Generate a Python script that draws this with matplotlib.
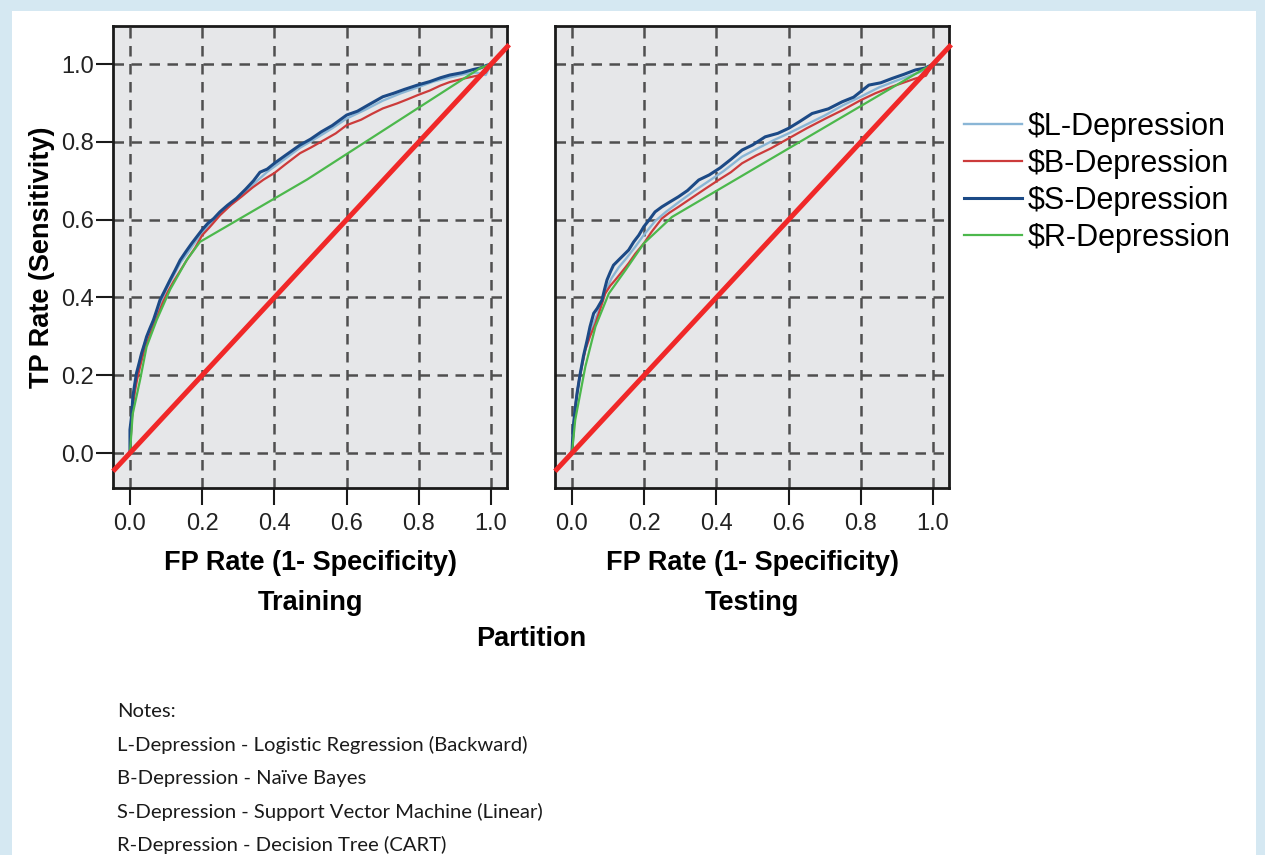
import matplotlib
matplotlib.use("Agg")
import matplotlib.pyplot as plt
from matplotlib.patches import Rectangle

# ---------------- data ----------------
series_names = ["$L-Depression", "$B-Depression", "$S-Depression", "$R-Depression"]
series_colors = ["#8ab6d6", "#cc3b3b", "#1c4a86", "#4cb84c"]
series_widths = [1.7, 1.6, 2.2, 1.6]

train_L_x = [0, 0.005, 0.01, 0.018, 0.028, 0.04, 0.052, 0.065, 0.08, 0.1, 0.12, 0.14, 0.16, 0.18, 0.2, 0.23, 0.26, 0.3, 0.34, 0.38, 0.42, 0.471, 0.52, 0.56, 0.6, 0.65, 0.7, 0.75, 0.796, 0.84, 0.886, 0.93, 0.96, 0.985, 1.0]
train_L_y = [0, 0.09, 0.14, 0.195, 0.24, 0.28, 0.31, 0.338, 0.375, 0.42, 0.455, 0.49, 0.515, 0.542, 0.566, 0.598, 0.625, 0.655, 0.69, 0.723, 0.75, 0.785, 0.812, 0.835, 0.86, 0.882, 0.906, 0.925, 0.94, 0.955, 0.966, 0.975, 0.978, 0.972, 1.0]

train_B_x = [0, 0.004, 0.008, 0.014, 0.02, 0.03, 0.04, 0.05, 0.062, 0.075, 0.09, 0.105, 0.12, 0.14, 0.16, 0.18, 0.2, 0.22, 0.25, 0.28, 0.31, 0.34, 0.37, 0.4, 0.43, 0.471, 0.5, 0.54, 0.57, 0.6, 0.64, 0.67, 0.70, 0.74, 0.77, 0.796, 0.83, 0.86, 0.886, 0.92, 0.95, 0.97, 0.985, 1.0]
train_B_y = [0, 0.07, 0.12, 0.16, 0.19, 0.23, 0.265, 0.29, 0.32, 0.35, 0.385, 0.415, 0.44, 0.47, 0.50, 0.527, 0.56, 0.58, 0.612, 0.638, 0.66, 0.683, 0.703, 0.72, 0.742, 0.771, 0.785, 0.806, 0.822, 0.843, 0.857, 0.872, 0.886, 0.899, 0.91, 0.92, 0.932, 0.945, 0.954, 0.962, 0.968, 0.972, 0.978, 1.0]

train_S_x = [0, 0.0, 0.005, 0.008, 0.012, 0.018, 0.025, 0.032, 0.04, 0.046, 0.055, 0.065, 0.075, 0.083, 0.095, 0.111, 0.125, 0.139, 0.155, 0.171, 0.185, 0.199, 0.215, 0.232, 0.249, 0.27, 0.295, 0.32, 0.342, 0.36, 0.38, 0.40, 0.43, 0.471, 0.50, 0.53, 0.56, 0.60, 0.63, 0.66, 0.70, 0.73, 0.76, 0.796, 0.83, 0.86, 0.886, 0.92, 0.95, 0.97, 0.988, 1.0]
train_S_y = [0, 0.06, 0.10, 0.145, 0.17, 0.205, 0.23, 0.256, 0.28, 0.299, 0.32, 0.342, 0.37, 0.393, 0.415, 0.445, 0.47, 0.496, 0.518, 0.539, 0.556, 0.573, 0.59, 0.603, 0.62, 0.637, 0.655, 0.678, 0.70, 0.722, 0.73, 0.745, 0.765, 0.792, 0.807, 0.826, 0.842, 0.869, 0.879, 0.895, 0.916, 0.925, 0.935, 0.946, 0.955, 0.965, 0.972, 0.978, 0.986, 0.99, 0.997, 1.0]

train_R_x = [0, 0.0075, 0.028, 0.046, 0.074, 0.111, 0.157, 0.194, 0.49, 0.97, 1.0]
train_R_y = [0, 0.10, 0.188, 0.273, 0.342, 0.42, 0.496, 0.543, 0.703, 0.99, 1.0]

test_L_x = [0, 0.005, 0.012, 0.022, 0.035, 0.05, 0.065, 0.08, 0.095, 0.11, 0.13, 0.15, 0.175, 0.2, 0.23, 0.26, 0.3, 0.34, 0.38, 0.42, 0.471, 0.52, 0.56, 0.6, 0.65, 0.7, 0.75, 0.799, 0.85, 0.9, 0.95, 0.98, 1.0]
test_L_y = [0, 0.08, 0.14, 0.2, 0.26, 0.31, 0.345, 0.38, 0.42, 0.45, 0.478, 0.5, 0.53, 0.562, 0.596, 0.62, 0.648, 0.675, 0.7, 0.725, 0.762, 0.786, 0.805, 0.822, 0.845, 0.868, 0.894, 0.916, 0.94, 0.958, 0.975, 0.985, 1.0]

test_B_x = [0, 0.004, 0.009, 0.02, 0.037, 0.05, 0.065, 0.08, 0.092, 0.106, 0.12, 0.14, 0.157, 0.175, 0.199, 0.22, 0.249, 0.27, 0.295, 0.33, 0.37, 0.406, 0.44, 0.471, 0.51, 0.55, 0.6, 0.65, 0.702, 0.75, 0.799, 0.84, 0.886, 0.92, 0.951, 0.98, 1.0]
test_B_y = [0, 0.06, 0.12, 0.19, 0.265, 0.30, 0.333, 0.375, 0.41, 0.43, 0.445, 0.468, 0.488, 0.512, 0.539, 0.568, 0.603, 0.618, 0.633, 0.655, 0.68, 0.702, 0.722, 0.745, 0.765, 0.783, 0.809, 0.835, 0.86, 0.882, 0.907, 0.925, 0.942, 0.953, 0.963, 0.97, 1.0]

test_S_x = [0, 0.003, 0.0074, 0.014, 0.023, 0.032, 0.042, 0.05, 0.06, 0.07, 0.083, 0.09, 0.097, 0.106, 0.115, 0.13, 0.143, 0.157, 0.171, 0.185, 0.199, 0.215, 0.23, 0.249, 0.27, 0.295, 0.32, 0.351, 0.38, 0.41, 0.44, 0.471, 0.5, 0.535, 0.57, 0.6, 0.63, 0.665, 0.71, 0.748, 0.78, 0.799, 0.822, 0.855, 0.886, 0.92, 0.951, 0.978, 1.0]
test_S_y = [0, 0.06, 0.102, 0.153, 0.205, 0.25, 0.29, 0.325, 0.359, 0.372, 0.393, 0.42, 0.445, 0.465, 0.483, 0.497, 0.509, 0.522, 0.543, 0.56, 0.582, 0.601, 0.62, 0.633, 0.645, 0.659, 0.675, 0.702, 0.715, 0.733, 0.755, 0.779, 0.792, 0.813, 0.822, 0.835, 0.852, 0.873, 0.885, 0.903, 0.915, 0.929, 0.946, 0.952, 0.963, 0.974, 0.985, 0.99, 1.0]

test_R_x = [0, 0.009, 0.037, 0.065, 0.102, 0.148, 0.199, 0.277, 0.97, 1.0]
test_R_y = [0, 0.085, 0.222, 0.325, 0.41, 0.47, 0.539, 0.607, 0.985, 1.0]

ref_line = [-0.047, 1.05]
tick_vals = [0.0, 0.2, 0.4, 0.6, 0.8, 1.0]
tick_labels = ["0.0", "0.2", "0.4", "0.6", "0.8", "1.0"]
panel_titles = ["Training", "Testing"]
x_label = "FP Rate (1- Specificity)"
y_label = "TP Rate (Sensitivity)"
group_label = "Partition"
notes = ["Notes:",
         "L-Depression - Logistic Regression (Backward)",
         "B-Depression - Naïve Bayes",
         "S-Depression - Support Vector Machine (Linear)",
         "R-Depression - Decision Tree (CART)"]

# ---------------- figure ----------------
W, H = 1265, 855
fig = plt.figure(figsize=(W / 100, H / 100), dpi=100)
fig.patch.set_facecolor("#d5e8f2")
fig.patches.append(Rectangle((12 / W, 0), (1256 - 12) / W, (H - 11) / H,
                             transform=fig.transFigure, facecolor="white",
                             edgecolor="none", zorder=-10))

FONT = "Liberation Sans"
panels = [
    (113, [(train_L_x, train_L_y), (train_B_x, train_B_y), (train_S_x, train_S_y), (train_R_x, train_R_y)]),
    (555, [(test_L_x, test_L_y), (test_B_x, test_B_y), (test_S_x, test_S_y), (test_R_x, test_R_y)]),
]
top, bottom, pw = 26, 488, 394
axes = []
for i, (left, data) in enumerate(panels):
    ax = fig.add_axes([left / W, (H - bottom) / H, pw / W, (bottom - top) / H])
    axes.append(ax)
    ax.set_facecolor("#e6e7e9")
    ax.set_xlim(-0.047, 1.044)
    ax.set_ylim(-0.09, 1.098)
    for (xs, ys), c, nm, lw in zip(data, series_colors, series_names, series_widths):
        ax.plot(xs, ys, color=c, lw=lw, label=nm, zorder=3)
    ax.plot(ref_line, ref_line, color="#f02828", lw=3.6, zorder=4,
            clip_on=False, solid_capstyle="butt")
    ax.set_xticks(tick_vals)
    ax.set_xticklabels(tick_labels, fontsize=17, family=FONT, color="#222222")
    ax.set_yticks(tick_vals)
    ax.grid(True, color="#4f4f4f", lw=1.8, linestyle=(0, (4.2, 3.0)), zorder=1)
    ax.set_axisbelow(True)
    for s in ax.spines.values():
        s.set_linewidth(2.0)
        s.set_color("#1a1a1a")
    ax.tick_params(axis="x", direction="out", length=12, width=1.5, pad=6, color="#1a1a1a")
    if i == 0:
        ax.set_yticklabels(tick_labels, fontsize=17, family=FONT, color="#222222")
        ax.tick_params(axis="y", direction="out", length=12, width=1.5, pad=2, color="#1a1a1a")
        ax.set_ylabel(y_label, fontsize=19.5, family=FONT, fontweight="bold", labelpad=4)
    else:
        ax.tick_params(axis="y", length=0, labelleft=False)
    cx = (left + pw / 2) / W
    fig.text(cx, 1 - 563 / H, x_label, ha="center", va="center", fontsize=19.5,
             family=FONT, fontweight="bold")
    fig.text(cx, 1 - 603 / H, panel_titles[i], ha="center", va="center", fontsize=19.5,
             family=FONT, fontweight="bold")

fig.text(531 / W, 1 - 639 / H, group_label, ha="center", va="center", fontsize=19.5,
         family=FONT, fontweight="bold")

handles, labels = axes[0].get_legend_handles_labels()
fig.legend(handles, labels, loc="upper left", bbox_to_anchor=(964 / W, 1 - 112 / H),
           frameon=False, prop={"family": FONT, "size": 22}, handlelength=1.9,
           handletextpad=0.2, labelspacing=0.23, borderaxespad=0, borderpad=0)

for k, line in enumerate(notes):
    fig.text(117 / W, 1 - (711 + 33.6 * k) / H, line, ha="left", va="center",
             fontsize=14.6, family="Lato", color="#1a1a1a")

fig.savefig("out.png", dpi=100, facecolor=fig.get_facecolor())
